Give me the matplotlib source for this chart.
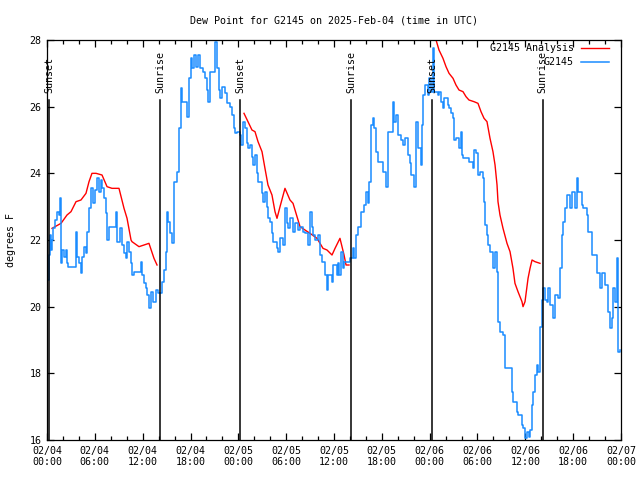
import numpy as np
import matplotlib
matplotlib.use("Agg")
import matplotlib.pyplot as plt
from matplotlib.ticker import MultipleLocator

# hours since 2025-02-04 00:00 UTC
obs_hours = [0.13, 0.25, 0.38, 0.50, 0.63, 0.75, 1.00, 1.25, 1.51, 1.63, 1.76, 1.88, 2.13, 2.38,
             2.51, 2.63, 3.01, 3.39, 3.60, 3.76, 4.01, 4.26, 4.39, 4.64, 4.89, 5.02, 5.27, 5.52,
             5.77, 6.02, 6.27, 6.52, 6.77, 6.90, 7.15, 7.40, 7.53, 7.78, 8.15, 8.40, 8.66, 8.78,
             9.16, 9.41, 9.66, 9.91, 10.04, 10.29, 10.54, 10.66, 10.91, 11.54, 11.79, 11.92, 12.17,
             12.42, 12.54, 12.79, 13.05, 13.30, 13.67, 13.92, 14.26, 14.43, 14.68, 14.93, 15.05,
             15.18, 15.43, 15.68, 15.93, 16.31, 16.56, 16.81, 16.93, 17.44, 17.56, 17.81, 18.06,
             18.19, 18.44, 18.69, 18.94, 19.19, 19.57, 19.82, 20.07, 20.20, 20.45, 20.82, 21.07,
             21.33, 21.58, 21.70, 21.95, 22.33, 22.58, 22.96, 23.21, 23.46, 23.58, 23.83, 24.21,
             24.34, 24.59, 24.84, 25.09, 25.21, 25.46, 25.71, 25.84, 26.09, 26.34, 26.47, 26.72,
             26.97, 27.10, 27.34, 27.59, 27.72, 27.97, 28.22, 28.35, 28.60, 28.85, 28.97, 29.23,
             29.60, 29.85, 30.10, 30.23, 30.48, 30.86, 31.11, 31.48, 31.74, 32.11, 32.36, 32.74,
             32.99, 33.24, 33.37, 33.62, 33.99, 34.25, 34.50, 34.87, 35.12, 35.25, 35.75, 35.88,
             36.38, 36.50, 36.63, 36.88, 37.13, 37.26, 37.76, 38.01, 38.38, 38.51, 38.76, 39.01,
             39.39, 39.77, 40.02, 40.27, 40.39, 40.64, 40.89, 41.02, 41.27, 41.52, 41.90, 42.15,
             42.53, 42.78, 43.15, 43.40, 43.53, 43.78, 44.03, 44.41, 44.66, 44.91, 45.28, 45.53,
             45.66, 45.91, 46.04, 46.29, 46.54, 46.92, 47.04, 47.17, 47.42, 47.79, 47.92, 48.17,
             48.42, 48.55, 49.05, 49.17, 49.42, 49.67, 49.80, 50.30, 50.43, 50.68, 50.93, 51.05,
             51.30, 51.68, 51.93, 52.06, 52.18, 52.81, 52.93, 53.44, 53.56, 53.81, 54.06, 54.31,
             54.69, 54.82, 54.94, 55.19, 55.32, 55.57, 55.94, 56.20, 56.45, 56.57, 56.82, 57.20,
             57.45, 58.08, 58.33, 58.45, 58.96, 59.08, 59.58, 59.71, 59.96, 60.21, 60.46, 60.59,
             60.84, 60.96, 61.21, 61.46, 61.59, 61.84, 62.09, 62.22, 62.47, 62.72, 62.84, 63.09,
             63.47, 63.72, 64.10, 64.35, 64.60, 64.73, 64.98, 65.23, 65.60, 65.86, 66.23, 66.48,
             66.61, 67.11, 67.24, 67.74, 67.86, 68.36, 68.74, 68.99, 69.37, 69.62, 69.74, 69.99,
             70.37, 70.62, 70.87, 71.00, 71.25, 71.50, 71.62, 71.87]
obs_dewpt = [20.8, 21.55, 22.15, 21.7, 22.0, 22.35, 22.6, 22.85, 22.75, 23.26, 21.3, 21.7, 21.5, 21.7,
             21.3, 21.2, 21.2, 21.2, 22.25, 21.5, 21.3, 21.0, 21.5, 21.8, 21.6, 22.25, 22.95, 23.55,
             23.1, 23.5, 23.85, 23.45, 23.8, 23.55, 23.25, 22.8, 22.0, 22.4, 22.4, 22.4, 22.85, 21.95,
             22.35, 21.85, 21.6, 21.45, 21.95, 21.65, 21.3, 20.95, 21.05, 21.05, 21.35, 20.95, 20.7,
             20.55, 20.35, 19.95, 20.45, 20.15, 20.5, 20.4, 20.4, 20.75, 21.1, 21.65, 22.85,
             22.55, 22.2, 21.9, 23.75, 24.05, 25.35, 26.55, 26.15, 26.15, 25.7, 26.85, 27.45,
             27.15, 27.55, 27.2, 27.55, 27.15, 27.05, 26.85, 26.5, 26.15, 27.05, 27.05, 27.95,
             27.15, 26.5, 26.25, 26.6, 26.4, 26.1, 26.0, 25.75, 25.35, 25.2, 25.25, 25.15,
             24.85, 25.55, 25.35, 24.9, 24.75, 24.85, 24.5, 24.25, 24.55, 24.0, 23.75, 23.75,
             23.4, 23.15, 23.45, 23.0, 22.65, 22.55, 22.2, 21.95, 21.95, 21.75, 21.65, 22.05,
             21.85, 22.95, 22.5, 22.35, 22.65, 22.25, 22.5, 22.3, 22.4, 22.25, 22.2, 21.85,
             22.85, 22.4, 22.15, 22.0, 22.15, 21.55, 21.35, 20.95, 20.5, 20.95, 20.75, 21.25,
             20.95, 21.3, 20.95, 21.65, 21.15, 21.35, 21.35, 21.45, 21.75, 21.45, 22.15, 22.4,
             22.85, 23.05, 23.45, 23.1, 23.75, 25.45, 25.65, 25.35, 24.65, 24.35, 24.35, 24.05,
             23.6, 25.25, 25.25, 26.15, 25.55, 25.75, 25.15, 25.0, 24.85, 25.05, 24.55, 24.3,
             23.95, 23.95, 23.6, 25.55, 24.75, 24.25, 25.45, 26.35, 26.65, 26.35, 26.85, 26.45,
             27.75, 26.45, 26.35, 26.45, 26.15, 25.95, 26.25, 26.05, 25.95, 25.8, 25.65, 25.0,
             25.05, 24.75, 25.25, 24.55, 24.45, 24.45, 24.35, 24.15, 24.7, 24.6, 23.95, 24.05,
             23.85, 23.15, 22.45, 22.15, 21.85, 21.65, 21.15, 21.65, 21.05, 19.55, 19.25, 19.15,
             18.15, 18.15, 17.45, 17.15, 16.85, 16.75, 16.45, 16.35, 16.05, 16.25, 16.1, 16.3,
             17.05, 17.45, 17.95, 18.25, 18.05, 19.4, 20.2, 20.55, 20.2, 20.15, 20.55, 20.05,
             19.65, 20.35, 20.25, 21.15, 22.15, 22.55, 22.95, 23.35, 22.95, 23.45, 22.95, 23.85,
             23.45, 23.05, 22.95, 22.75, 22.25, 21.55, 21.55, 21.0, 20.55, 21.0, 21.0, 20.65,
             19.85, 19.35, 19.65, 20.55, 20.15, 21.45, 18.65, 18.7]

# analysis (NaN = gap between runs)
ana_hours = [0.63, 1.76, 2.51, 3.01, 3.64, 4.26, 4.89, 5.27, 5.64, 6.15, 6.90, 7.53, 8.15, 9.03,
             9.66, 10.04, 10.54, 10.66, 11.54, 12.17, 12.79, 13.42, 13.80, 19.0,
             24.71, 25.21, 25.71, 26.09, 26.47, 26.97, 27.34, 27.72, 28.22, 28.60, 28.85, 29.23,
             29.85, 30.48, 30.86, 31.36, 31.74, 32.36, 32.99, 33.87, 34.62, 35.12, 35.75, 36.13,
             36.75, 37.26, 37.51, 37.88, 43.0,
             48.80, 49.17, 49.67, 50.05, 50.43, 50.93, 51.30, 51.68, 52.18, 52.56, 52.93, 53.56,
             54.06, 54.44, 54.82, 55.19, 55.57, 55.94, 56.20, 56.45, 56.57, 56.82, 57.20, 57.70,
             58.08, 58.45, 58.70, 59.08, 59.58, 59.71, 59.96, 60.34, 60.59, 60.84, 61.21, 61.84]
ana_dewpt = [22.35, 22.5, 22.75, 22.85, 23.15, 23.2, 23.4, 23.75, 24.0, 24.0, 23.95, 23.6, 23.55, 23.55,
             22.95, 22.65, 22.0, 21.95, 21.8, 21.85, 21.9, 21.45, 21.25, np.nan,
             25.8, 25.55, 25.3, 25.25, 24.95, 24.65, 24.15, 23.65, 23.35, 22.85, 22.65, 23.0,
             23.55, 23.2, 23.1, 22.7, 22.4, 22.3, 22.2, 22.05, 21.75, 21.7, 21.55, 21.75,
             22.05, 21.55, 21.25, 21.25, np.nan,
             28.0, 27.7, 27.45, 27.2, 27.0, 26.85, 26.65, 26.5, 26.45, 26.3, 26.2, 26.15,
             26.1, 25.85, 25.65, 25.55, 25.05, 24.65, 24.25, 23.65, 23.15, 22.75, 22.35, 21.9,
             21.65, 21.15, 20.7, 20.45, 20.15, 20.0, 20.15, 20.85, 21.15, 21.4, 21.35, 21.3]

sun_hours = [0.25, 14.17, 24.21, 38.13, 48.3, 62.2]
sun_labels = ["Sunset", "Sunrise", "Sunset", "Sunrise", "Sunset", "Sunrise"]

tick_hours = list(range(0, 73, 6))
tick_labels = ["02/04\n00:00", "02/04\n06:00", "02/04\n12:00", "02/04\n18:00",
               "02/05\n00:00", "02/05\n06:00", "02/05\n12:00", "02/05\n18:00",
               "02/06\n00:00", "02/06\n06:00", "02/06\n12:00", "02/06\n18:00",
               "02/07\n00:00"]

plt.rcParams["font.family"] = ["DejaVu Sans Mono"]
plt.rcParams["font.size"] = 7.2

fig = plt.figure(figsize=(6.4, 4.8), dpi=100)
ax = fig.add_axes([47 / 640, 40 / 480, 574 / 640, 400 / 480])

ax.plot(ana_hours, ana_dewpt, color="#ff0000", lw=1.0, label="G2145 Analysis")
ax.plot(obs_hours, obs_dewpt, color="#1a8cff", lw=1.1, drawstyle="steps-post", label="G2145")

for h, lab in zip(sun_hours, sun_labels):
    ax.plot([h, h], [16, 26.2], color="black", lw=1.1)
    ax.text(h, 26.42, lab, rotation=90, ha="center", va="bottom", fontsize=7.2)

ax.set_xlim(0, 72)
ax.set_ylim(16, 28)
ax.set_xticks(tick_hours)
ax.set_xticklabels(tick_labels)
ax.xaxis.set_minor_locator(MultipleLocator(2))
ax.set_yticks(range(16, 29, 2))
ax.tick_params(which="both", direction="in", top=True, right=True, width=0.9)
ax.tick_params(which="major", length=5, pad=4)
ax.tick_params(which="minor", length=3)
for s in ax.spines.values():
    s.set_linewidth(0.9)

ax.set_title("Dew Point for G2145 on 2025-Feb-04 (time in UTC)", fontsize=7.2, pad=12)
ax.set_ylabel("degrees F", labelpad=10)

ax.legend(loc="upper right", bbox_to_anchor=(0.982, 0.997), frameon=False, markerfirst=False,
          handlelength=2.8, borderaxespad=0.0, borderpad=0.2, labelspacing=0.4,
          handletextpad=0.7)

fig.savefig("out.png", dpi=100)
